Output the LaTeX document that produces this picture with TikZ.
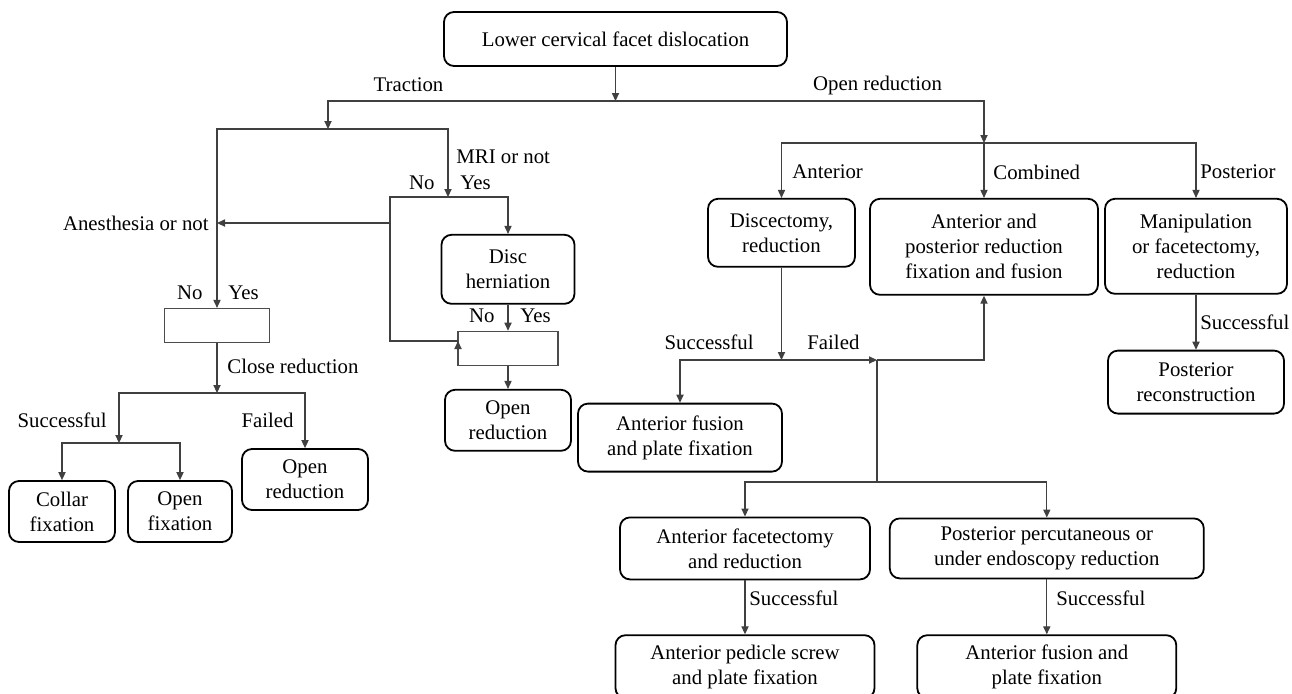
\documentclass[tikz,border=0pt]{standalone}
\usepackage{fontspec}
\setmainfont{Liberation Serif}
\usepackage{tikz}
\usetikzlibrary{arrows.meta, positioning}
\tikzstyle{rbox}     = [rectangle, rounded corners=5pt, draw=black, line width=0.9pt,
                        align=center, inner sep=1pt, font=\fontsize{10.4}{12.5}\selectfont]
\tikzstyle{emptybox} = [rectangle, draw=black!70, line width=0.6pt,
                        minimum height=17pt, inner sep=0pt]
\tikzstyle{link}     = [draw=black!75, line width=0.55pt]
\tikzstyle{arr}      = [link, -{Triangle[length=4pt,width=3.6pt]}]
\tikzstyle{lbl}      = [inner sep=0pt, font=\fontsize{10.4}{12.5}\selectfont]

\begin{document}
\begin{tikzpicture}[x=0.5pt, y=-0.5pt]
  \useasboundingbox (0,0) rectangle (1292,693);

  \node[rbox, minimum width=171.5pt, minimum height=27pt] (root) at (615.5,39) {Lower cervical facet dislocation};

  % open reduction side
  \node[rbox, below=65.5pt of root, xshift=83pt, minimum width=73.5pt, minimum height=34pt] (discect) {Discectomy,\\reduction};
  \node[rbox, below=65.5pt of root, xshift=184.25pt, minimum width=114pt, minimum height=48pt] (comb) {Anterior and\\posterior reduction\\fixation and fusion};
  \node[rbox, below=65.5pt of root, xshift=290.25pt, minimum width=91pt, minimum height=47.5pt] (manip) {Manipulation\\or facetectomy,\\reduction};
  \node[rbox, below=27.5pt of manip, minimum width=88pt, minimum height=31.5pt] (postrec) {Posterior\\reconstruction};
  \node[rbox, below=67.5pt of discect, xshift=-50.75pt, minimum width=102pt, minimum height=34pt] (antfus) {Anterior fusion\\and plate fixation};
  \node[rbox, below=22pt of antfus, xshift=32.5pt, minimum width=125pt, minimum height=31pt] (antfac) {Anterior facetectomy\\and reduction};
  \node[rbox, right=9pt of antfac, minimum width=157pt, minimum height=30pt] (postperc) {Posterior percutaneous or\\under endoscopy reduction};
  \node[rbox, below=27pt of antfac, minimum width=129.5pt, minimum height=31.5pt] (antped) {Anterior pedicle screw\\and plate fixation};
  \node[rbox, below=27.5pt of postperc, minimum width=129.5pt, minimum height=31.5pt] (antfus2) {Anterior fusion and\\plate fixation};

  % traction side
  \node[rbox, below=83.5pt of root, xshift=-53.75pt, minimum width=66.5pt, minimum height=34.5pt] (disc) {Disc\\herniation};
  \node[emptybox, below=13pt of disc, minimum width=50pt] (split2) {};
  \node[rbox, below=11.5pt of split2, minimum width=63pt, minimum height=30.5pt] (midopen) {Open\\reduction};
  \node[emptybox, below=120.5pt of root, xshift=-199.25pt, minimum width=52.5pt] (split1) {};
  \node[rbox, below=52.5pt of split1, xshift=44pt, minimum width=63pt, minimum height=30.5pt] (leftopen) {Open\\reduction};
  \node[rbox, below=68.5pt of split1, xshift=-77.5pt, minimum width=53pt, minimum height=30.5pt] (collar) {Collar\\fixation};
  \node[rbox, below=68.5pt of split1, xshift=-18.5pt, minimum width=52pt, minimum height=30.5pt] (openfix) {Open\\fixation};

  % junctions
  \coordinate (jmain) at (615.5,101);
  \coordinate (jtrac) at (328,129);
  \coordinate (jmri) at (448,197);
  \coordinate (jane) at (390,223);
  \coordinate (jno) at (390,341);
  \coordinate (jback) at (458,341);
  \coordinate (jclose) at (217,393);
  \coordinate (jsucc) at (119,443);
  \coordinate (jopen) at (984,143);
  \coordinate (jant) at (781.5,360);
  \coordinate (jfail) at (877,360);
  \coordinate (jfacet) at (877,482);

  \draw[arr] (root.south) -- (jmain);
  \draw[arr] (jmain) -| (jtrac);
  \draw[arr] (jmain) -| (jopen);

  \draw[arr] (jtrac) -| (split1.north);
  \draw[arr] (jtrac) -| (jmri);
  \draw[arr] (jmri) -| (disc.north);
  \draw[link] (jmri) -| (jno) -- (jback);
  \draw[arr] ([yshift=-4.5pt]jback) -- (jback);
  \draw[arr] (jane) -- (jane -| split1.north);
  \draw[arr] (disc) -- (split2);
  \draw[arr] (split2) -- (midopen);
  \draw[arr] (split1) -- (jclose);
  \draw[arr] (jclose) -| (jsucc);
  \draw[arr] (jclose) -| (leftopen.north);
  \draw[arr] (jsucc) -| (collar.north);
  \draw[arr] (jsucc) -| (openfix.north);

  \draw[arr] (jopen) -- (comb.north);
  \draw[arr] (jopen) -| (discect.north);
  \draw[arr] (jopen) -| (manip.north);
  \draw[arr] (discect) -- (jant);
  \draw[arr] (jant) -| (antfus.north);
  \draw[arr] (jant) -- (jfail);
  \draw[arr] (jfail) -| (comb.south);
  \draw[link] (jfail) -- (jfacet);
  \draw[arr] (jfacet) -| (antfac.north);
  \draw[arr] (jfacet) -| (postperc.north);
  \draw[arr] (manip) -- (postrec);
  \draw[arr] (antfac) -- (antped);
  \draw[arr] (postperc) -- (antfus2);

  % labels
  \node[lbl] (lTrac) at (408.5,85) {Traction};
  \node[lbl] (lOpen) at (877.5,85) {Open reduction};
  \node[lbl, anchor=west] (lMri) at (456,157) {MRI or not};
  \node[lbl, anchor=east] (lMriNo) at (435,183) {No};
  \node[lbl, anchor=west] (lMriYes) at (460,183) {Yes};
  \node[lbl, anchor=east] (lAne) at (209,223) {Anesthesia or not};
  \node[lbl, anchor=east] (lAneNo) at (203,293) {No};
  \node[lbl, anchor=west] (lAneYes) at (228,293) {Yes};
  \node[lbl, anchor=east] (lDiscNo) at (495,316) {No};
  \node[lbl, anchor=west] (lDiscYes) at (520,316) {Yes};
  \node[lbl, anchor=west] (lClose) at (227,366) {Close reduction};
  \node[lbl, anchor=east] (lSucc1) at (107,420) {Successful};
  \node[lbl, anchor=east] (lFail1) at (294,420) {Failed};
  \node[lbl, anchor=west] (lAnt) at (792,172) {Anterior};
  \node[lbl, anchor=west] (lComb) at (993,172) {Combined};
  \node[lbl, anchor=west] (lPost) at (1200,172) {Posterior};
  \node[lbl, anchor=east] (lSucc2) at (754,342) {Successful};
  \node[lbl, anchor=west] (lFail2) at (807,342) {Failed};
  \node[lbl, anchor=west] (lSucc3) at (1200,322) {Successful};
  \node[lbl, anchor=west] (lSucc4) at (749,598) {Successful};
  \node[lbl, anchor=west] (lSucc5) at (1056,598) {Successful};
\end{tikzpicture}
\end{document}
